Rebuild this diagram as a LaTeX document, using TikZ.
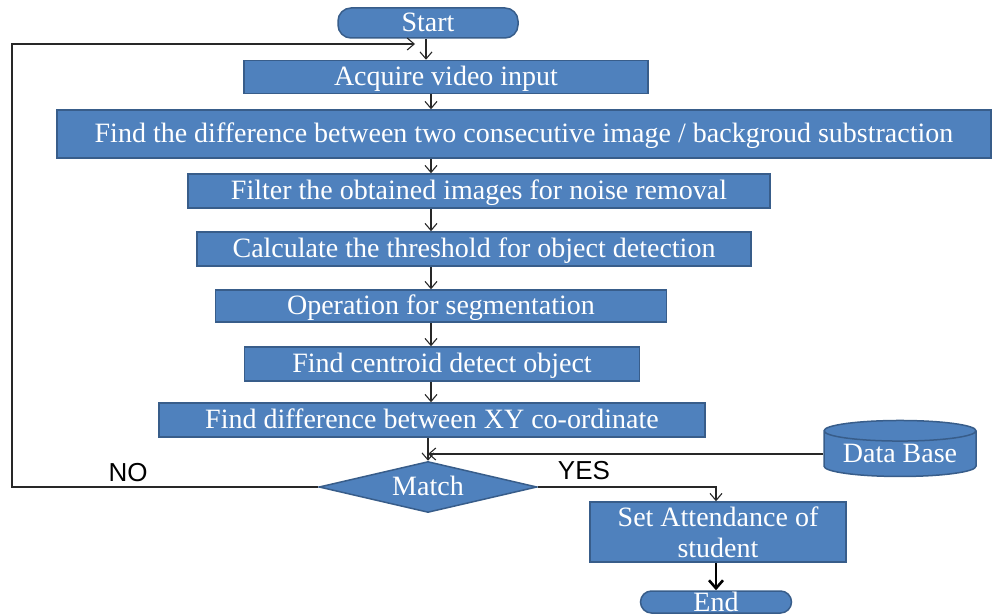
\documentclass[tikz,border=0pt]{standalone}
\usepackage{fontspec}
\setmainfont{Liberation Serif}
\setsansfont{Liberation Sans}
\usetikzlibrary{shapes.geometric,arrows.meta}
\definecolor{boxfill}{RGB}{79,129,189}
\definecolor{boxline}{RGB}{56,93,138}
\definecolor{wire}{RGB}{40,40,40}
\tikzset{
  stepbox/.style={draw=boxline,fill=boxfill,line width=1.5pt,text=white,inner sep=0pt,
    font=\fontsize{28}{31}\selectfont},
  oneline/.style={text height=21pt,text depth=4pt},
  term/.style={stepbox,oneline,rounded corners=13pt},
  arr/.style={draw=wire,line width=1.1pt,-{Straight Barb[length=7pt,width=12pt]}},
  lbl/.style={font=\sffamily\fontsize{26}{28}\selectfont,text=black,inner sep=0pt}
}
\begin{document}
\begin{tikzpicture}[x=1pt,y=-1pt]
\useasboundingbox (0,0) rectangle (993,615);
\coordinate (spine) at (431,0);
\node[term,minimum width=180pt,minimum height=30pt] (start) at (428,23) {Start};
\node[stepbox,oneline,minimum width=404pt,minimum height=33pt] (acq) at (446,77) {Acquire video input};
\node[stepbox,oneline,minimum width=934pt,minimum height=48pt] (diff) at (524,134) {Find the difference between two consecutive image / backgroud substraction};
\node[stepbox,oneline,minimum width=582pt,minimum height=34pt] (filt) at (479,191) {Filter the obtained images for noise removal};
\node[stepbox,oneline,minimum width=554pt,minimum height=34pt] (thr) at (474,249) {Calculate the threshold for object detection};
\node[stepbox,oneline,minimum width=451pt,minimum height=32pt] (seg) at (441,306) {Operation for segmentation};
\node[stepbox,oneline,minimum width=395pt,minimum height=34pt] (cen) at (442,364) {Find centroid detect object};
\node[stepbox,oneline,minimum width=546pt,minimum height=34pt] (xy) at (432,420) {Find difference between XY co-ordinate};
\node[stepbox,oneline,diamond,aspect=4.27,minimum width=218pt,minimum height=51pt] (match) at (428,487) {Match};
\node[stepbox,cylinder,shape border rotate=90,aspect=0.18,text height=20pt,text depth=4pt,minimum width=152pt,minimum height=56pt] (db) at (900,454) {Data Base};
\node[stepbox,minimum width=256pt,minimum height=60pt,align=center] (att) at (718,532) {Set Attendance of\\student};
\node[term,text height=20pt,text depth=2pt,minimum width=151pt,minimum height=22pt,rounded corners=11pt] (end) at (716,602) {End};
\coordinate (nw) at (12,44);
\coordinate (loopend) at (426,44);
% connectors
\draw[arr] (start.south -| loopend) -- (acq.north -| loopend);
\draw[arr] (acq.south -| spine) -- (diff.north -| spine);
\draw[arr] (diff.south -| spine) -- (filt.north -| spine);
\draw[arr] (filt.south -| spine) -- (thr.north -| spine);
\draw[arr] (thr.south -| spine) -- (seg.north -| spine);
\draw[arr] (seg.south -| spine) -- (cen.north -| spine);
\draw[arr] (cen.south -| spine) -- (xy.north -| spine);
\draw[arr] (xy.south -| match.north) -- (match.north);
\draw[arr] (db.west) -- (db.west -| match.north);
\draw[arr,shorten >=11pt] (match.west) -| (nw) -- (loopend);
\draw[arr] (match.east) -| (end.north |- att.north);
\draw[draw=black,line width=2.6pt,-{Straight Barb[length=8pt,width=14pt]}] (att.south -| end.north) -- (end.north);
\node[lbl] (no) at (128,473) {NO};
\node[lbl] (yes) at (584,471) {YES};
\end{tikzpicture}
\end{document}
